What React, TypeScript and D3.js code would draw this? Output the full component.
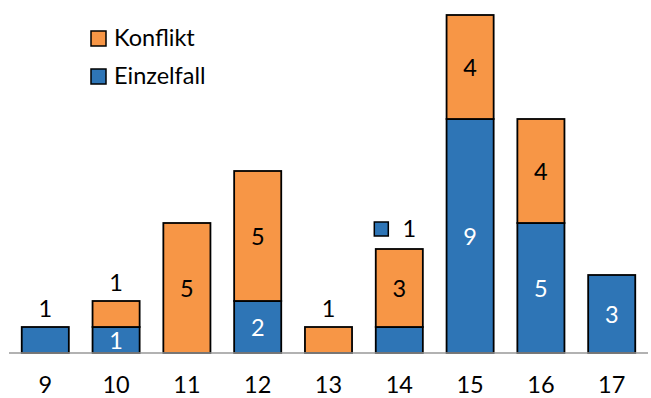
import React from "react";
import * as d3 from "d3";

const categories = ["9", "10", "11", "12", "13", "14", "15", "16", "17"];
const einzelfall = [1, 1, 0, 2, 0, 1, 9, 5, 3];
const konflikt = [0, 1, 5, 5, 1, 3, 4, 4, 0];
// label placement for each segment: "inside", "above", "callout" or "none"
const einzelfallLabel = ["above", "inside", "none", "inside", "none", "callout", "inside", "inside", "inside"];
const konfliktLabel = ["none", "above", "inside", "inside", "above", "inside", "inside", "inside", "none"];
const seriesNames = ["Konflikt", "Einzelfall"];

const W = 651;
const H = 398;
const BLUE = "#2E75B6";
const ORANGE = "#F79646";
const FONT = "Lato, 'Noto Sans', sans-serif";
const FS = 23.5;

export default function App() {
  const x = d3.scaleBand<string>().domain(categories).range([9, 648]).paddingInner(0.335).paddingOuter(0.18);
  const y = d3.scaleLinear().domain([0, 13]).range([353, 15]);
  const bw = x.bandwidth();

  const rows = categories.map((c, i) => ({ c, e: einzelfall[i], k: konflikt[i] }));
  const stack = d3.stack<any>().keys(["e", "k"])(rows);

  const labels: React.ReactNode[] = [];
  stack.forEach((layer, li) => {
    const pos = li === 0 ? einzelfallLabel : konfliktLabel;
    layer.forEach((d, i) => {
      const v = d[1] - d[0];
      if (v <= 0 || pos[i] === "none") return;
      const cx = (x(categories[i]) as number) + bw / 2;
      if (pos[i] === "inside") {
        const cy = (y(d[0]) + y(d[1])) / 2;
        labels.push(
          <text key={`l${li}-${i}`} x={cx} y={cy + 9} textAnchor="middle" fontSize={FS} fontFamily={FONT}
            fill={li === 0 ? "#fff" : "#000"}>{v}</text>
        );
      } else if (pos[i] === "above") {
        const top = y(rows[i].e + rows[i].k);
        labels.push(
          <text key={`l${li}-${i}`} x={cx} y={top - 10} textAnchor="middle" fontSize={FS} fontFamily={FONT} fill="#000">{v}</text>
        );
      } else if (pos[i] === "callout") {
        const top = y(rows[i].e + rows[i].k);
        labels.push(
          <g key={`l${li}-${i}`}>
            <rect x={cx - 25} y={top - 27} width={14} height={14} fill={BLUE} stroke="#000" strokeWidth={1.5} />
            <text x={cx + 10} y={top - 12} textAnchor="middle" fontSize={FS} fontFamily={FONT} fill="#000">{v}</text>
          </g>
        );
      }
    });
  });

  return (
    <svg width={W} height={H} style={{ position: "absolute", left: 0, top: 0, background: "#fff" }}>
      {stack.map((layer, li) => (
        <g key={li} fill={li === 0 ? BLUE : ORANGE}>
          {layer.map((d, i) =>
            d[1] - d[0] > 0 ? (
              <rect key={i} x={x(categories[i])} y={y(d[1])} width={bw} height={y(d[0]) - y(d[1])}
                stroke="#000" strokeWidth={1.8} />
            ) : null
          )}
        </g>
      ))}
      <line x1={9} x2={648} y1={353} y2={353} stroke="#999" strokeWidth={1.5} />
      {labels}
      {categories.map((c) => (
        <text key={c} x={(x(c) as number) + bw / 2} y={393} textAnchor="middle" fontSize={FS} fontFamily={FONT} fill="#000">{c}</text>
      ))}
      {seriesNames.map((n, i) => (
        <g key={n} transform={`translate(91, ${31 + i * 38})`}>
          <rect x={0} y={0} width={15} height={15} fill={i === 0 ? ORANGE : BLUE} stroke="#000" strokeWidth={1.5} />
          <text x={23} y={15} fontSize={FS} fontFamily={FONT} fill="#000">{n}</text>
        </g>
      ))}
    </svg>
  );
}
